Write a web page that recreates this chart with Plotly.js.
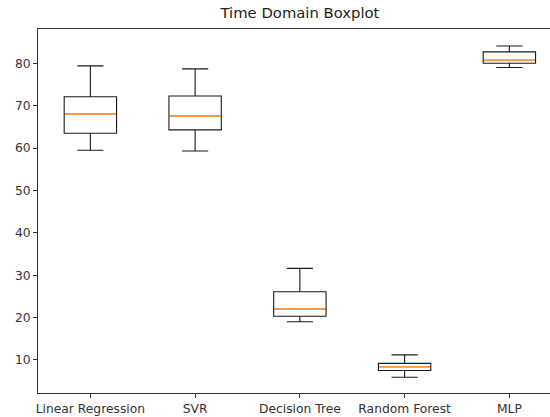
<!DOCTYPE html>
<html>
<head>
<meta charset="utf-8">
<script src="https://cdn.plot.ly/plotly-3.0.1.min.js"></script>
<style>html,body{margin:0;padding:0;background:#fff;}#chart{width:550px;height:417px;}</style>
</head>
<body>
<div id="chart"></div>
<script>
const categories = ["Linear Regression", "SVR", "Decision Tree", "Random Forest", "MLP"];
const lowerWhisker = [59.5, 59.3, 19.0, 5.9, 79.0];
const q1Values = [63.5, 64.3, 20.3, 7.5, 80.0];
const medianValues = [68.0, 67.6, 22.0, 8.4, 80.7];
const q3Values = [72.1, 72.3, 26.1, 9.2, 82.7];
const upperWhisker = [79.4, 78.7, 31.6, 11.2, 84.1];
const yTicks = [10, 20, 30, 40, 50, 60, 70, 80];

const boxTrace = {
  type: "box",
  x: categories,
  q1: q1Values,
  median: medianValues,
  q3: q3Values,
  lowerfence: lowerWhisker,
  upperfence: upperWhisker,
  width: 0.5,
  whiskerwidth: 0.5,
  line: {color: "#1a1a1a", width: 1.1},
  fillcolor: "rgba(0,0,0,0)",
  boxpoints: false,
  hoverinfo: "skip",
  showlegend: false
};
const medianTrace = {
  type: "box",
  x: categories,
  q1: medianValues,
  median: medianValues,
  q3: medianValues,
  lowerfence: medianValues,
  upperfence: medianValues,
  width: 0.49,
  whiskerwidth: 0,
  line: {color: "#ff9a40", width: 1.6},
  fillcolor: "rgba(0,0,0,0)",
  boxpoints: false,
  hoverinfo: "skip",
  showlegend: false
};

const layout = {
  width: 550,
  height: 417,
  margin: {l: 38, r: 0, t: 29, b: 24},
  paper_bgcolor: "#ffffff",
  plot_bgcolor: "#ffffff",
  font: {family: "DejaVu Sans", size: 12.3, color: "#333"},
  title: {text: "Time Domain Boxplot", x: 0.5454, xanchor: "center", y: 0.958, yanchor: "bottom", font: {size: 14.8, color: "#222"}},
  boxmode: "overlay",
  xaxis: {
    type: "category",
    range: [-0.5, 4.388],
    showgrid: false,
    zeroline: false,
    showline: true,
    linecolor: "#333",
    linewidth: 1,
    mirror: true,
    ticks: "outside",
    ticklen: 4,
    tickcolor: "#333",
    tickfont: {size: 12.3}
  },
  yaxis: {
    range: [2.2, 88.1],
    tickvals: yTicks,
    showgrid: false,
    zeroline: false,
    showline: true,
    linecolor: "#333",
    linewidth: 1,
    ticks: "outside",
    ticklen: 4,
    tickcolor: "#333",
    tickfont: {size: 12.3}
  }
};

Plotly.newPlot("chart", [boxTrace, medianTrace], layout, {displayModeBar: false, staticPlot: true});
</script>
</body>
</html>
